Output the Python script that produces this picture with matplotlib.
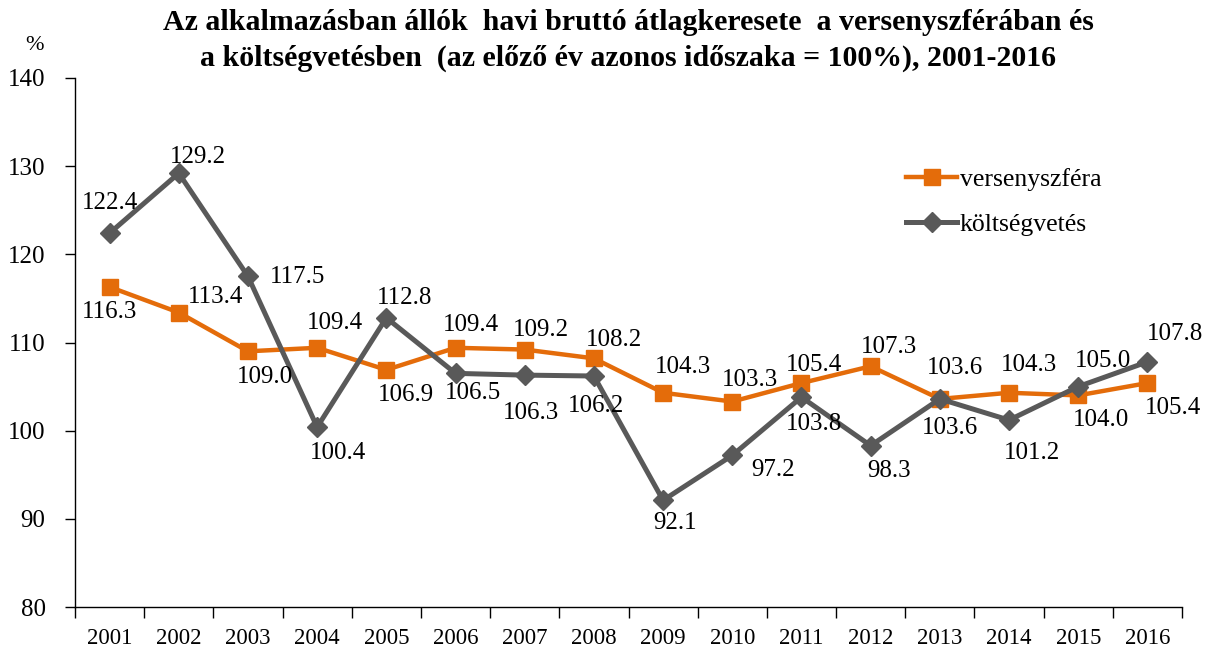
import matplotlib
matplotlib.use("Agg")
import matplotlib.pyplot as plt
from matplotlib.ticker import FixedLocator

years = [str(y) for y in range(2001, 2017)]
versenyszfera = [116.3, 113.4, 109.0, 109.4, 106.9, 109.4, 109.2, 108.2,
                 104.3, 103.3, 105.4, 107.3, 103.6, 104.3, 104.0, 105.4]
koltsegvetes = [122.4, 129.2, 117.5, 100.4, 112.8, 106.5, 106.3, 106.2,
                92.1, 97.2, 103.8, 98.3, 103.6, 101.2, 105.0, 107.8]

# label offsets in pixels (dx, dy)
off_verseny = [(0, -25), (37, 16), (17, -26), (18, 25), (20, -25), (15, 23),
               (16, 20), (20, 18), (20, 26), (18, 22), (13, 18), (18, 19),
               (15, 31), (20, 28), (23, -25), (26, -25)]
off_kolts = [(0, 30), (19, 16), (50, -1), (21, -26), (18, 20), (17, -20),
             (6, -38), (2, -30), (12, -23), (41, -15), (13, -27), (18, -25),
             (10, -29), (23, -33), (25, 26), (28, 28)]

ORANGE = "#E46C0A"
GREY = "#595959"
FONT = "Liberation Serif"

plt.rcParams["font.family"] = FONT

fig = plt.figure(figsize=(12.1, 6.57), dpi=100)
ax = fig.add_axes([75 / 1210, 1 - 607 / 657, (1182 - 75) / 1210, (607 - 78) / 657])

x = list(range(len(years)))
ax.plot(x, versenyszfera, color=ORANGE, lw=3.2, marker="s", ms=11,
        label="versenyszféra", zorder=3)
ax.plot(x, koltsegvetes, color=GREY, lw=3.6, marker="D", ms=10,
        label="költségvetés", zorder=4)

for xi, v, (dx, dy) in zip(x, versenyszfera, off_verseny):
    ax.annotate(f"{v:.1f}", (xi, v), xytext=(dx, dy), textcoords="offset pixels",
                ha="center", va="center", fontsize=18, color="black", zorder=5)
for xi, v, (dx, dy) in zip(x, koltsegvetes, off_kolts):
    ax.annotate(f"{v:.1f}", (xi, v), xytext=(dx, dy), textcoords="offset pixels",
                ha="center", va="center", fontsize=18, color="black", zorder=5)

ax.set_xlim(-0.5, len(years) - 0.5)
ax.set_ylim(80, 140)
ax.set_yticks(range(80, 141, 10))
ax.set_xticks(x)
ax.set_xticklabels(years, fontsize=16.5)
ax.xaxis.set_minor_locator(FixedLocator([i - 0.5 for i in range(len(years) + 1)]))
ax.tick_params(axis="x", which="major", length=0, pad=15)
ax.tick_params(axis="x", which="minor", length=8, direction="out", width=1)
ax.tick_params(axis="y", length=7.2, direction="out", width=1, labelsize=18, pad=14)

for s in ["top", "right"]:
    ax.spines[s].set_visible(False)
for s in ["left", "bottom"]:
    ax.spines[s].set_linewidth(1)
    ax.spines[s].set_color("black")

fig.text(35 / 1210, 1 - 45 / 657, "%", fontsize=16, ha="center", va="center")

fig.text(628 / 1210, 1 - 22 / 657,
         "Az alkalmazásban állók  havi bruttó átlagkeresete  a versenyszférában és",
         fontsize=21.5, fontweight="bold", ha="center", va="center")
fig.text(628 / 1210, 1 - 58 / 657,
         "a költségvetésben  (az előző év azonos időszaka = 100%), 2001-2016",
         fontsize=21.5, fontweight="bold", ha="center", va="center")

ax.legend(loc="upper left", bbox_to_anchor=(906 / 1210, 1 - 168 / 657),
          bbox_transform=fig.transFigure, frameon=False, fontsize=18.5,
          handlelength=2.0, handletextpad=0.1, labelspacing=0.85,
          borderaxespad=0, borderpad=0)

fig.savefig("out.png", dpi=100)
